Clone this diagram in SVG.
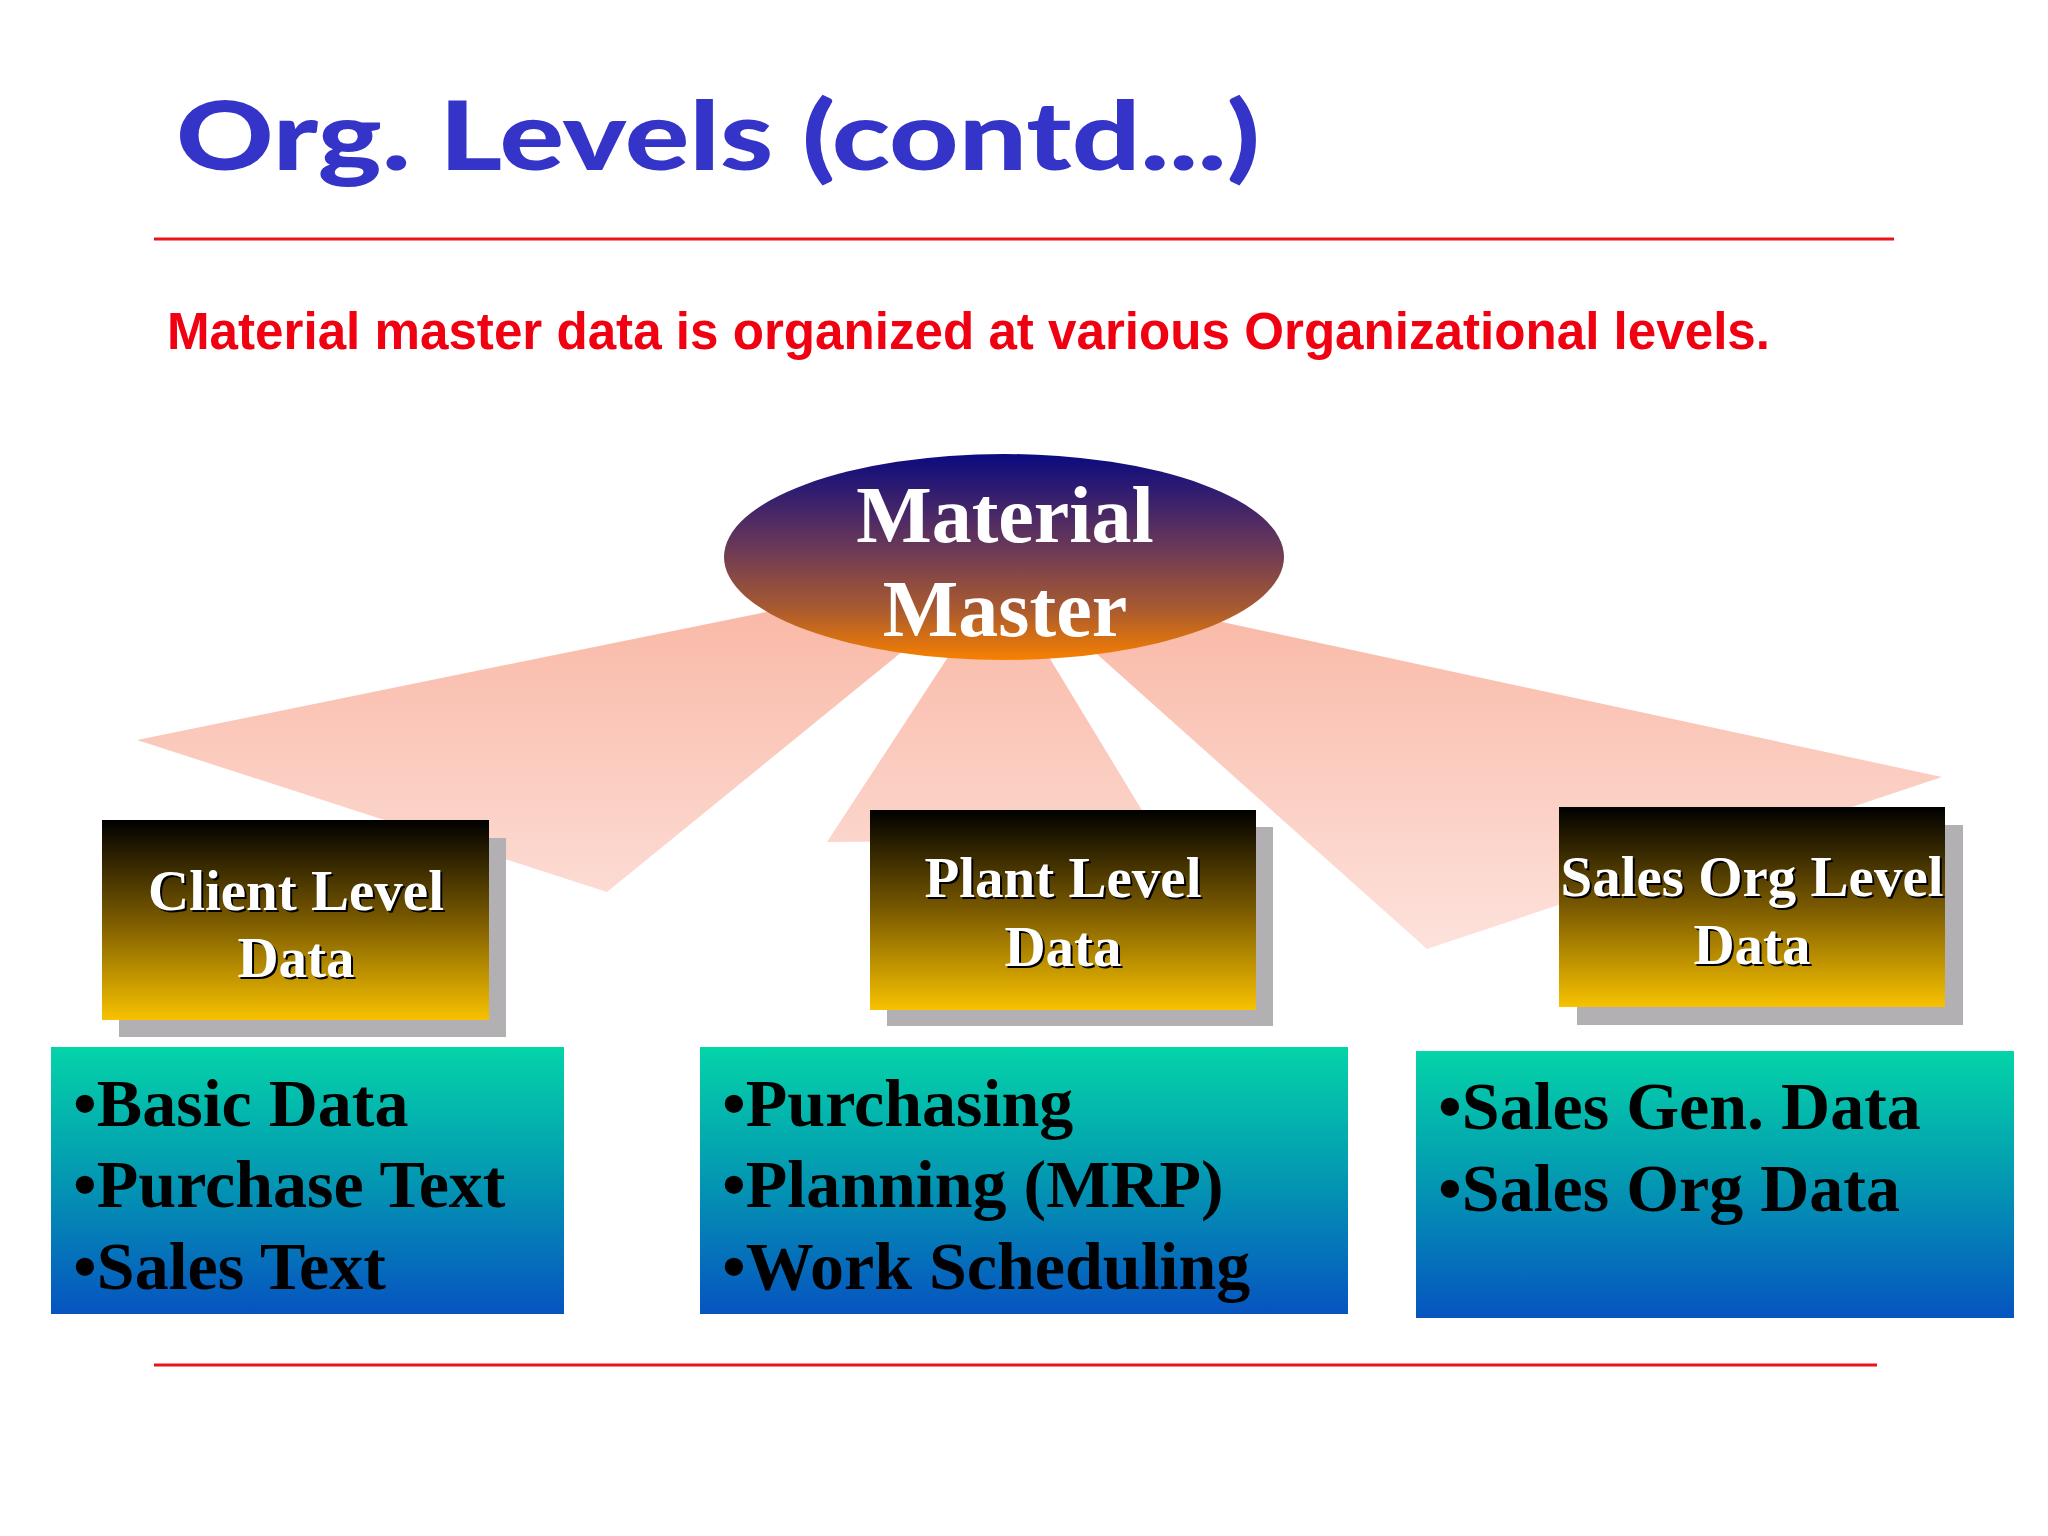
<svg xmlns="http://www.w3.org/2000/svg" width="2048" height="1536" viewBox="0 0 2048 1536">
<defs>
<linearGradient id="gEll" x1="0" y1="0" x2="0" y2="1">
<stop offset="0" stop-color="#0a0a80"/>
<stop offset="0.45" stop-color="#6a3858"/>
<stop offset="0.75" stop-color="#a85a30"/>
<stop offset="1" stop-color="#f78000"/>
</linearGradient>
<linearGradient id="gGold" x1="0" y1="0" x2="0" y2="1">
<stop offset="0" stop-color="#000000"/>
<stop offset="0.5" stop-color="#7a5a00"/>
<stop offset="1" stop-color="#f8c200"/>
</linearGradient>
<linearGradient id="gTeal" x1="0" y1="0" x2="0" y2="1">
<stop offset="0" stop-color="#04d4a8"/>
<stop offset="0.5" stop-color="#0397b2"/>
<stop offset="1" stop-color="#0654c0"/>
</linearGradient>
<linearGradient id="gBeam" x1="0" y1="600" x2="0" y2="950" gradientUnits="userSpaceOnUse">
<stop offset="0" stop-color="#f9b8a6"/>
<stop offset="1" stop-color="#fde2dc"/>
</linearGradient>
</defs>
<style>
.line{stroke:#e8141a;stroke-width:3}
.beam{fill:url(#gBeam)}
.shadow{fill:#b2b0b2}
.gold{fill:url(#gGold)}
.teal{fill:url(#gTeal)}
.lbl{font-family:"Liberation Serif","Times New Roman",serif;font-weight:bold;font-size:57px;text-anchor:middle}
.lblw{fill:#ffffff}
.lbls{fill:#000000}
.item{font-family:"Liberation Serif","Times New Roman",serif;font-weight:bold;font-size:68px;fill:#000000}
.mm{font-family:"Liberation Serif","Times New Roman",serif;font-weight:bold;font-size:80px;fill:#ffffff;text-anchor:middle}
</style>
<rect width="2048" height="1536" fill="#ffffff"/>
<text x="176" y="170" font-family="Lato, 'Open Sans', sans-serif" font-weight="900" font-size="95" fill="#3434c8" textLength="1084" lengthAdjust="spacingAndGlyphs">Org. Levels (contd...)</text>
<line class="line" x1="154" y1="239" x2="1894" y2="239"/>
<text x="167" y="349" font-family="'Liberation Sans', Arial, sans-serif" font-weight="bold" font-size="51" fill="#f00010" textLength="1603" lengthAdjust="spacingAndGlyphs">Material master data is organized at various Organizational levels.</text>
<g id="connectors">
<polygon class="beam" points="820,601 930,629 607,892 137,740"/>
<polygon class="beam" points="982,605 1021,611 1160,840 827,842"/>
<polygon class="beam" points="1051,613 1162,609 1942,777 1427,949"/>
</g>
<g id="material-master">
<ellipse cx="1004" cy="557" rx="280" ry="103" fill="url(#gEll)"/>
<text class="mm" x="1005" y="542">Material</text>
<text class="mm" x="1005" y="636">Master</text>
</g>
<g id="client-level">
<rect class="shadow" x="119" y="838" width="387" height="199"/>
<rect class="gold" x="102" y="820" width="387" height="200"/>
<text class="lbl lbls" x="298" y="912">Client Level</text>
<text class="lbl lblw" x="296" y="910">Client Level</text>
<text class="lbl lbls" x="298" y="979">Data</text>
<text class="lbl lblw" x="296" y="977">Data</text>
</g>
<g id="plant-level">
<rect class="shadow" x="887" y="827" width="386" height="199"/>
<rect class="gold" x="870" y="810" width="386" height="200"/>
<text class="lbl lbls" x="1065" y="899">Plant Level</text>
<text class="lbl lblw" x="1063" y="897">Plant Level</text>
<text class="lbl lbls" x="1065" y="968">Data</text>
<text class="lbl lblw" x="1063" y="966">Data</text>
</g>
<g id="sales-org-level">
<rect class="shadow" x="1577" y="825" width="386" height="200"/>
<rect class="gold" x="1559" y="807" width="386" height="200"/>
<text class="lbl lbls" x="1754" y="898">Sales Org Level</text>
<text class="lbl lblw" x="1752" y="896">Sales Org Level</text>
<text class="lbl lbls" x="1754" y="966">Data</text>
<text class="lbl lblw" x="1752" y="964">Data</text>
</g>
<g id="client-items">
<rect class="teal" x="51" y="1047" width="513" height="267"/>
<text class="item" x="73" y="1126">•Basic Data</text>
<text class="item" x="73" y="1207">•Purchase Text</text>
<text class="item" x="73" y="1289">•Sales Text</text>
</g>
<g id="plant-items">
<rect class="teal" x="700" y="1047" width="648" height="267"/>
<text class="item" x="722" y="1126">•Purchasing</text>
<text class="item" x="722" y="1207">•Planning (MRP)</text>
<text class="item" x="722" y="1289">•Work Scheduling</text>
</g>
<g id="sales-items">
<rect class="teal" x="1416" y="1051" width="598" height="267"/>
<text class="item" x="1438" y="1129">•Sales Gen. Data</text>
<text class="item" x="1438" y="1211">•Sales Org Data</text>
</g>
<line class="line" x1="154" y1="1365" x2="1877" y2="1365"/>
</svg>
